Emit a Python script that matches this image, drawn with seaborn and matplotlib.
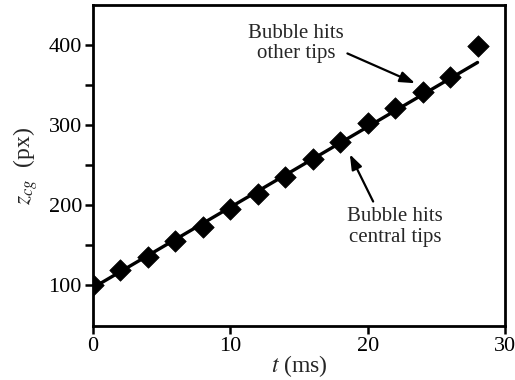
import matplotlib
matplotlib.use("Agg")
import matplotlib.pyplot as plt
import seaborn as sns
import numpy as np

# Data
t_ms = [0, 2, 4, 6, 8, 10, 12, 14, 16, 18, 20, 22, 24, 26, 28]
z_cg = [100, 118, 135, 155, 172, 194, 213, 234, 257, 279, 302, 321, 341, 360, 399]
fit_t = [0, 28]
fit_z = [96, 378]

x_ticks = [0, 10, 20, 30]
y_ticks = [100, 200, 300, 400]
y_minor = [150, 250, 350]

sns.set_style("ticks")
plt.rcParams['font.family'] = ['Liberation Serif', 'DejaVu Serif']
plt.rcParams['mathtext.fontset'] = 'stix'

fig = plt.figure(figsize=(5.15, 3.8), dpi=100)
ax = fig.add_axes([0.1806, 0.142, 0.8, 0.845])

sns.lineplot(x=fit_t, y=fit_z, ax=ax, color='black', linewidth=2.4)
sns.scatterplot(x=t_ms, y=z_cg, ax=ax, marker='D', s=120, color='black',
                edgecolor='black', linewidth=0.5, zorder=5)

ax.set_xlim(0, 30)
ax.set_ylim(48, 450)
ax.set_xticks(x_ticks)
ax.set_yticks(y_ticks)
ax.set_yticks(y_minor, minor=True)
ax.tick_params(axis='both', which='both', direction='out', length=6, width=1.8,
               labelsize=16, colors='black', pad=2)
for sp in ax.spines.values():
    sp.set_linewidth(2.0)
    sp.set_color('black')
    sp.set_visible(True)

ax.set_xlabel(r'$t$ (ms)', fontsize=17, labelpad=-2)
ax.set_ylabel(r'$z_{cg}$  (px)', fontsize=17, labelpad=6)

ax.annotate('Bubble hits\nother tips', xy=(23.45, 352), xytext=(14.8, 402),
            ha='center', va='center', fontsize=15, linespacing=1.1,
            arrowprops=dict(arrowstyle='-|>,head_length=0.5,head_width=0.18',
                            color='black', lw=1.6,
                            mutation_scale=18, shrinkA=0, shrinkB=0,
                            relpos=(0.98, 0.3)))
ax.annotate('Bubble hits\ncentral tips', xy=(18.7, 263), xytext=(22.0, 172),
            ha='center', va='center', fontsize=15, linespacing=1.1,
            arrowprops=dict(arrowstyle='-|>,head_length=0.5,head_width=0.18',
                            color='black', lw=1.6,
                            mutation_scale=18, shrinkA=2, shrinkB=0,
                            relpos=(0.3, 1.0)))

fig.savefig('out.png', dpi=100)
